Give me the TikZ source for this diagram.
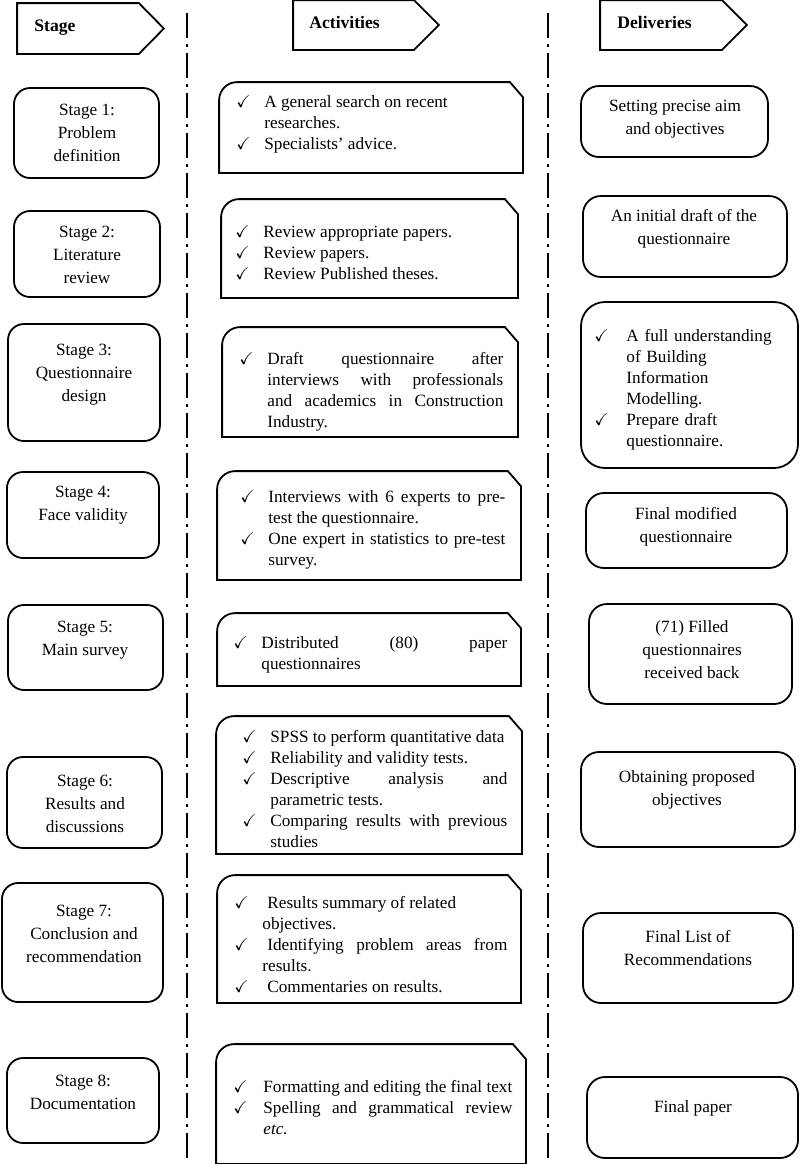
\documentclass[tikz,border=0pt]{standalone}
\usepackage{amssymb}
\usepackage{fontspec}
\setmainfont{Liberation Serif}
\usetikzlibrary{positioning, fit}

% ticked list for the activity boxes
\newenvironment{chklist}[1][14pt]{%
  \begin{list}{\makebox[\labelwidth][l]{$\checkmark$}}{%
    \setlength{\leftmargin}{#1}\setlength{\labelsep}{0pt}%
    \setlength{\labelwidth}{#1}\setlength{\itemsep}{0pt}%
    \setlength{\parsep}{0pt}\setlength{\topsep}{0pt}%
    \setlength{\partopsep}{0pt}}}%
  {\end{list}}

\begin{document}
\begin{tikzpicture}[
  x=0.5pt, y=-0.5pt,
  box/.style={inner sep=0pt, line width=0.9pt},
  stagebox/.style={box, draw, rounded corners=8pt},
  delbox/.style={box, draw, rounded corners=9pt},
  actbox/.style={box, append after command={\pgfextra{
    \draw[line width=0.9pt] (\tikzlastnode.south west)
      -- ([yshift=-9pt]\tikzlastnode.north west)
      arc[start angle=180, end angle=90, radius=9pt]
      -- ([xshift=-6.5pt]\tikzlastnode.north east)
      -- ([yshift=-7.5pt]\tikzlastnode.north east)
      -- (\tikzlastnode.south east) -- cycle;}}},
  headbox/.style={box, append after command={\pgfextra{
    \draw[line width=0.9pt] (\tikzlastnode.south west)
      -- (\tikzlastnode.north west)
      -- ([xshift=-12.5pt]\tikzlastnode.north east)
      -- (\tikzlastnode.east)
      -- ([xshift=-12.5pt]\tikzlastnode.south east) -- cycle;}}},
  txt/.style={align=center, inner sep=0pt, font=\fontsize{8.6pt}{11.5pt}\selectfont},
  headtxt/.style={anchor=west, inner sep=0pt, font=\fontsize{8.8pt}{10pt}\selectfont\bfseries},
  acttxt/.style={anchor=west, inner sep=0pt, text width=#1, align=justify,
    font=\fontsize{8.6pt}{10.5pt}\selectfont},
  divider/.style={line width=1.3pt, dash pattern=on 12.5pt off 3pt on 1.5pt off 3pt},
]
\useasboundingbox (0,0) rectangle (800,1164);

  % Column heads
  \node[headbox, fit={(18,4) (163,53)}] (h1) {};
  \node[headtxt] (h1t) at (34,28) {Stage};
  \node[headbox, fit={(294,1) (438,49)}] (h2) {};
  \node[headtxt] (h2t) at (309,22) {Activities};
  \node[headbox, fit={(601,1) (746,49)}] (h3) {};
  \node[headtxt] (h3t) at (617,22) {Deliveries};

  % Dividers
  \coordinate (v1top) at (187,13);
  \coordinate (v1bot) at (187,1164);
  \coordinate (v2top) at (548,13);
  \coordinate (v2bot) at (548,1164);
  \draw[divider] (v1top) -- (v1bot);
  \draw[divider] (v2top) -- (v2bot);

  % Stage 1
  \node[stagebox, fit={(14,88) (159,178)}] (s1) {};
  \node[txt] (s1t) at (87,133) {Stage 1:\\ Problem\\ definition};
  \node[actbox, fit={(220,83) (522,172)}] (a1) {};
  \node[acttxt=136pt] (a1t) at (236,120) {\begin{chklist}
    \item A general search on recent\newline researches.
    \item Specialists' advice.
  \end{chklist}};
  \node[delbox, fit={(581,86) (768,157)}] (d1) {};
  \node[txt] (d1t) at (675,119) {Setting precise aim\\ and objectives};

  % Stage 2
  \node[stagebox, fit={(14,211) (160,297)}] (s2) {};
  \node[txt] (s2t) at (87,255) {Stage 2:\\ Literature\\ review};
  \node[actbox, fit={(222,200) (517,297)}] (a2) {};
  \node[acttxt=136pt] (a2t) at (235,248) {\begin{chklist}
    \item Review appropriate papers.
    \item Review papers.
    \item Review Published theses.
  \end{chklist}};
  \node[delbox, fit={(583,196) (787,277)}] (d2) {};
  \node[txt] (d2t) at (684,229) {An initial draft of the\\ questionnaire};

  % Stage 3
  \node[stagebox, fit={(8,324) (160,441)}] (s3) {};
  \node[txt] (s3t) at (84,375) {Stage 3:\\ Questionnaire\\ design};
  \node[actbox, fit={(223,328) (517,436)}] (a3) {};
  \node[acttxt=132pt] (a3t) at (239,387) {\begin{chklist}
    \item Draft questionnaire after\linebreak interviews with professionals\linebreak
      and academics in Construction\linebreak Industry.
  \end{chklist}};
  \node[delbox, rounded corners=12pt, fit={(581,302) (798,468)}] (d3) {};
  \node[txt, anchor=west, align=left, text width=95pt,
    font=\fontsize{8.6pt}{10.5pt}\selectfont] (d3t) at (594,385) {\begin{chklist}[16pt]
    \item A full understanding\newline of Building\newline Information\newline Modelling.
    \item Prepare draft\newline questionnaire.
  \end{chklist}};

  % Stage 4
  \node[stagebox, fit={(7,472) (159,558)}] (s4) {};
  \node[txt] (s4t) at (83,505) {Stage 4:\\ Face validity};
  \node[actbox, fit={(218,472) (520,579)}] (a4) {};
  \node[acttxt=132.5pt] (a4t) at (240,525) {\begin{chklist}
    \item Interviews with 6 experts to pre-\linebreak test the questionnaire.
    \item One expert in statistics to pre-test\linebreak survey.
  \end{chklist}};
  \node[delbox, fit={(586,493) (787,568)}] (d4) {};
  \node[txt] (d4t) at (686,527) {Final modified\\ questionnaire};

  % Stage 5
  \node[stagebox, fit={(8,605) (163,690)}] (s5) {};
  \node[txt] (s5t) at (85,640) {Stage 5:\\ Main survey};
  \node[actbox, fit={(218,614) (520,685)}] (a5) {};
  \node[acttxt=137pt] (a5t) at (233,650) {\begin{chklist}
    \item Distributed (80) paper\linebreak questionnaires
  \end{chklist}};
  \node[delbox, fit={(589,604) (792,704)}] (d5) {};
  \node[txt] (d5t) at (692,650) {(71) Filled\\ questionnaires\\ received back};

  % Stage 6
  \node[stagebox, fit={(7,757) (162,848)}] (s6) {};
  \node[txt] (s6t) at (85,804) {Stage 6:\\ Results and\\ discussions};
  \node[actbox, fit={(217,717) (521,853)}] (a6) {};
  \node[acttxt=132.5pt] (a6t) at (242,785) {\begin{chklist}
    \item SPSS to perform quantitative data
    \item Reliability and validity tests.
    \item Descriptive analysis and\linebreak parametric tests.
    \item Comparing results with previous\linebreak studies
  \end{chklist}};
  \node[delbox, fit={(581,752) (795,847)}] (d6) {};
  \node[txt] (d6t) at (687,790) {Obtaining proposed\\ objectives};

  % Stage 7
  \node[stagebox, fit={(2,883) (163,1002)}] (s7) {};
  \node[txt] (s7t) at (84,934) {Stage 7:\\ Conclusion and\\ recommendation};
  \node[actbox, fit={(218,876) (520,1002)}] (a7) {};
  \node[acttxt=136.5pt] (a7t) at (234,940) {\begin{chklist}
    \item \hspace{2.5pt}Results summary of related\newline objectives.
    \item \hspace{2.5pt}Identifying problem areas from\linebreak results.
    \item \hspace{2.5pt}Commentaries on results.
  \end{chklist}};
  \node[delbox, fit={(583,913) (793,1003)}] (d7) {};
  \node[txt] (d7t) at (688,948) {Final List of\\ Recommendations};

  % Stage 8
  \node[stagebox, fit={(7,1058) (159,1143)}] (s8) {};
  \node[txt] (s8t) at (83,1092) {Stage 8:\\ Documentation};
  \node[actbox, fit={(217,1045) (525,1163)}] (a8) {};
  \node[acttxt=139.5pt] (a8t) at (233,1103) {\begin{chklist}[15pt]
    \item Formatting and editing the final text
    \item Spelling and grammatical review\linebreak \textit{etc.}
  \end{chklist}};
  \node[delbox, fit={(587,1077) (798,1158)}] (d8) {};
  \node[txt] (d8t) at (693,1108) {Final paper};
\end{tikzpicture}
\end{document}
